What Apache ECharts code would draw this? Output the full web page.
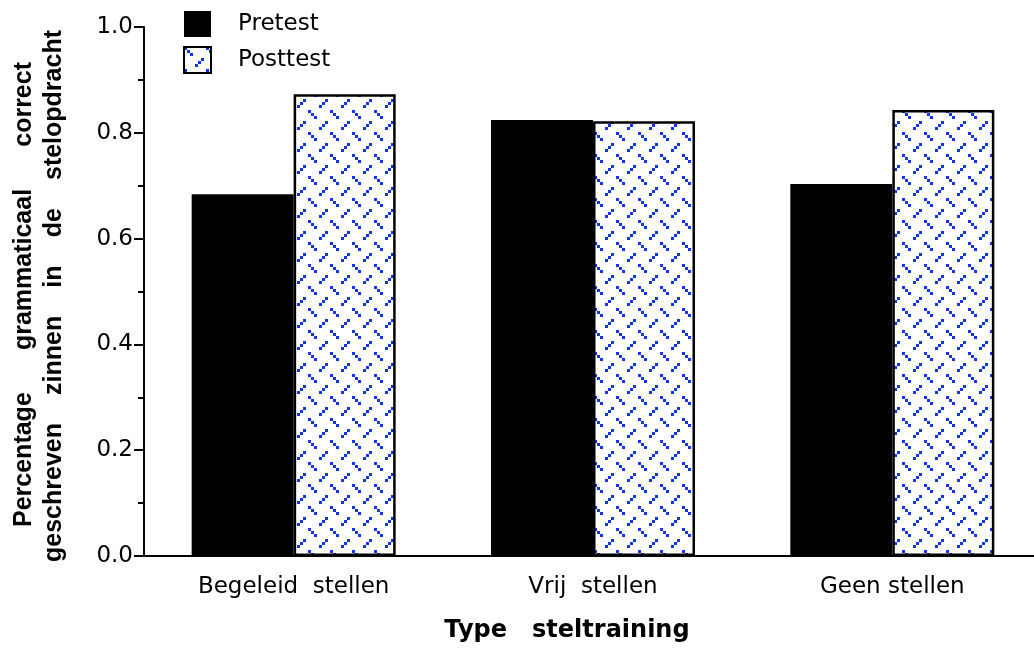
<!DOCTYPE html>
<html>
<head>
<meta charset="utf-8">
<script src="https://cdn.jsdelivr.net/npm/echarts@6/dist/echarts.min.js"></script>
<style>
html,body{margin:0;padding:0;background:#fff;overflow:hidden;width:1034px;height:652px;}
#chart{width:1042px;height:652px;}
</style>
</head>
<body>
<div id="chart"></div>
<script>
// ---- data ----
const categories = ['Begeleid  stellen', 'Vrij  stellen', 'Geen stellen'];
const seriesNames = ['Pretest', 'Posttest'];
const pretest = [0.684, 0.824, 0.703];
const posttest = [0.873, 0.822, 0.843];
const yTicks = ['0.0', '0.2', '0.4', '0.6', '0.8', '1.0'];
const yTitleLine1 = ['Percentage', 'grammaticaal', 'correct'];
const yTitleLine2 = ['geschreven', 'zinnen', 'in', 'de', 'stelopdracht'];
const xTitle = 'Type   steltraining';

// ---- pattern for posttest ----
function makePattern() {
  const c = document.createElement('canvas');
  c.width = 22; c.height = 22;
  const g = c.getContext('2d');
  g.fillStyle = '#ffffff';
  g.fillRect(0, 0, 22, 22);
  g.fillStyle = '#1436e0';
  const cells = [[0,0],[1,1],[2,2],[4,6],[5,5],[6,4]];
  const s = 22 / 8;
  cells.forEach(([i, j]) => {
    const x0 = Math.round(i * s), y0 = Math.round(j * s);
    g.fillRect(x0, y0, 3, 3);
  });
  return c;
}
const pattern = { image: makePattern(), repeat: 'repeat' };

// ---- justified rotated y title ----
const titleFont = 'bold 25px "Liberation Sans"';
const mctx = document.createElement('canvas').getContext('2d');
mctx.font = titleFont;
function justifiedWords(words, yStart, yEnd, cx) {
  const widths = words.map(w => mctx.measureText(w).width);
  const total = widths.reduce((a, b) => a + b, 0);
  const span = yStart - yEnd;
  const gap = words.length > 1 ? (span - total) / (words.length - 1) : 0;
  let acc = 0;
  return words.map((w, i) => {
    const cy = yStart - (acc + widths[i] / 2);
    acc += widths[i] + gap;
    return {
      type: 'text', x: cx, y: cy, rotation: Math.PI / 2,
      style: { text: w, font: titleFont, fill: '#000', align: 'center', verticalAlign: 'middle' }
    };
  });
}
const titleGraphics = [].concat(
  justifiedWords(yTitleLine1, 527, 62, 24),
  justifiedWords(yTitleLine2, 562, 30, 54)
);

const chart = echarts.init(document.getElementById('chart'), null, { renderer: 'canvas' });
const labelFont = '"DejaVu Sans", sans-serif';

chart.setOption({
  animation: false,
  backgroundColor: '#ffffff',
  grid: { left: 144, right: 0, top: 27, bottom: 96, containLabel: false },
  legend: {
    orient: 'vertical', left: 183, top: 11, padding: 0,
    icon: 'rect',
    itemWidth: 27, itemHeight: 26, itemGap: 9,
    data: seriesNames,
    textStyle: { fontFamily: labelFont, fontSize: 23, color: '#000', padding: [0, 0, 0, 22] },
    selectedMode: false
  },
  xAxis: {
    type: 'category', data: categories,
    axisLine: { lineStyle: { color: '#000', width: 2 } },
    axisTick: { show: false },
    axisLabel: { fontFamily: labelFont, fontSize: 23, color: '#000', margin: 20 },
    name: xTitle, nameLocation: 'middle', nameGap: 63,
    nameTextStyle: { fontFamily: labelFont, fontWeight: 'bold', fontSize: 24, color: '#000', padding: [0, 52, 0, 0] }
  },
  yAxis: {
    type: 'value', min: 0, max: 1, interval: 0.2,
    axisLine: { show: true, lineStyle: { color: '#000', width: 2 } },
    axisTick: { show: true, length: 10, lineStyle: { color: '#000', width: 2 } },
    minorTick: { show: true, splitNumber: 2, length: 6, lineStyle: { color: '#000', width: 2 } },
    splitLine: { show: false },
    axisLabel: {
      fontFamily: labelFont, fontSize: 23, color: '#000', margin: 11,
      formatter: (v) => yTicks[Math.round(v / 0.2)]
    }
  },
  series: [
    {
      name: seriesNames[0], type: 'bar', data: pretest, barWidth: 102, barGap: '0%',
      itemStyle: { color: '#000', borderWidth: 0 }
    },
    {
      name: seriesNames[1], type: 'bar', data: posttest, barWidth: 102, barGap: '0%',
      itemStyle: { color: pattern, borderColor: '#000', borderWidth: 2.5 }
    }
  ],
  graphic: titleGraphics
});
</script>
</body>
</html>
